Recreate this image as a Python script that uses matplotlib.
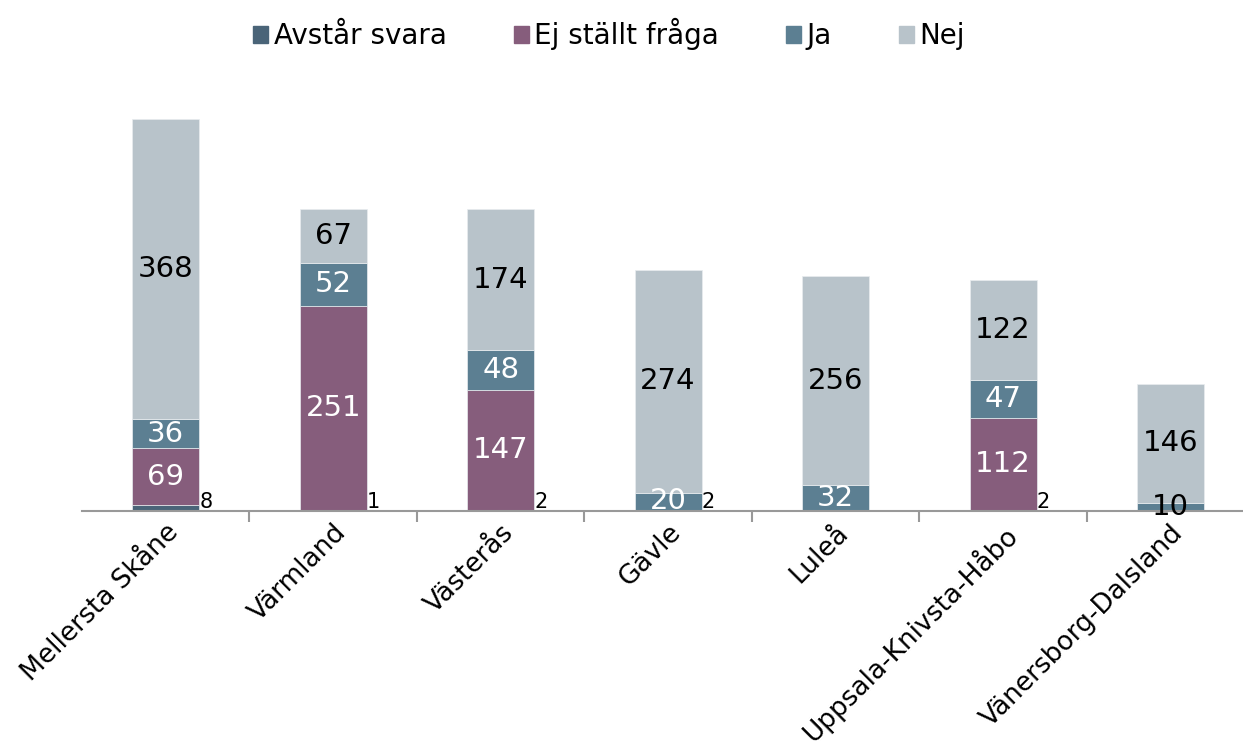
import numpy as np
import matplotlib; matplotlib.use("Agg")
import matplotlib.pyplot as plt
from matplotlib.patches import Patch

regions = ["Mellersta Skåne", "Värmland", "Västerås", "Gävle", "Luleå", "Uppsala-Knivsta-Håbo", "Vänersborg-Dalsland"]
avstar = [8, 1, 2, 2, 0, 2, 0]
ej_stallt = [69, 251, 147, 0, 0, 112, 0]
ja = [36, 52, 48, 20, 32, 47, 10]
nej = [368, 67, 174, 274, 256, 122, 146]
series = [("Avstår svara", avstar, "#4a6478"), ("Ej ställt fråga", ej_stallt, "#865d7c"),
          ("Ja", ja, "#5c7f92"), ("Nej", nej, "#b8c3ca")]

fig = plt.figure(figsize=(12.43, 7.54), dpi=100)
ax = fig.add_axes([0.066, 0.322, 0.943, 0.541])
x = np.arange(len(regions))
bottom = np.zeros(len(regions))
for name, vals, col in series:
    vals = np.array(vals, float)
    ax.bar(x, vals, 0.4, bottom=bottom, color=col, edgecolor="#e8ecef", linewidth=0.5, label=name)
    for i, v in enumerate(vals):
        if v <= 0: continue
        if name == "Avstår svara":
            ax.text(x[i] + 0.2, -1, f"{int(v)}", ha="left", va="bottom", fontsize=15, color="black")
        else:
            tc = "black" if name == "Nej" or (name == "Ja" and v < 15) else "white"
            ax.text(x[i], bottom[i] + v / 2, f"{int(v)}", ha="center", va="center", fontsize=21, color=tc)
    bottom += vals

ax.set_xlim(-0.5, len(regions) - 0.5)
ax.set_ylim(0, 500)
for s in ["top", "right", "left"]: ax.spines[s].set_visible(False)
ax.spines["bottom"].set_color("#999999"); ax.spines["bottom"].set_linewidth(1.5)
ax.set_yticks([])
ax.set_xticks(x)
ax.set_xticklabels(regions, rotation=45, ha="right", rotation_mode="anchor", fontsize=19)
ax.tick_params(axis="x", which="major", length=0, pad=6)
ax.set_xticks(np.arange(0.5, len(regions) - 0.5), minor=True)
ax.tick_params(axis="x", which="minor", length=8, width=1.5, color="#999999")

handles = [Patch(color=c, label=n) for n, _, c in series]
fig.legend(handles=handles, loc="center", bbox_to_anchor=(0.49, 0.955), ncol=4, frameon=False,
           fontsize=20, handlelength=0.55, handleheight=0.55, handletextpad=0.2, columnspacing=2.4)
fig.savefig("out.png", dpi=100)
